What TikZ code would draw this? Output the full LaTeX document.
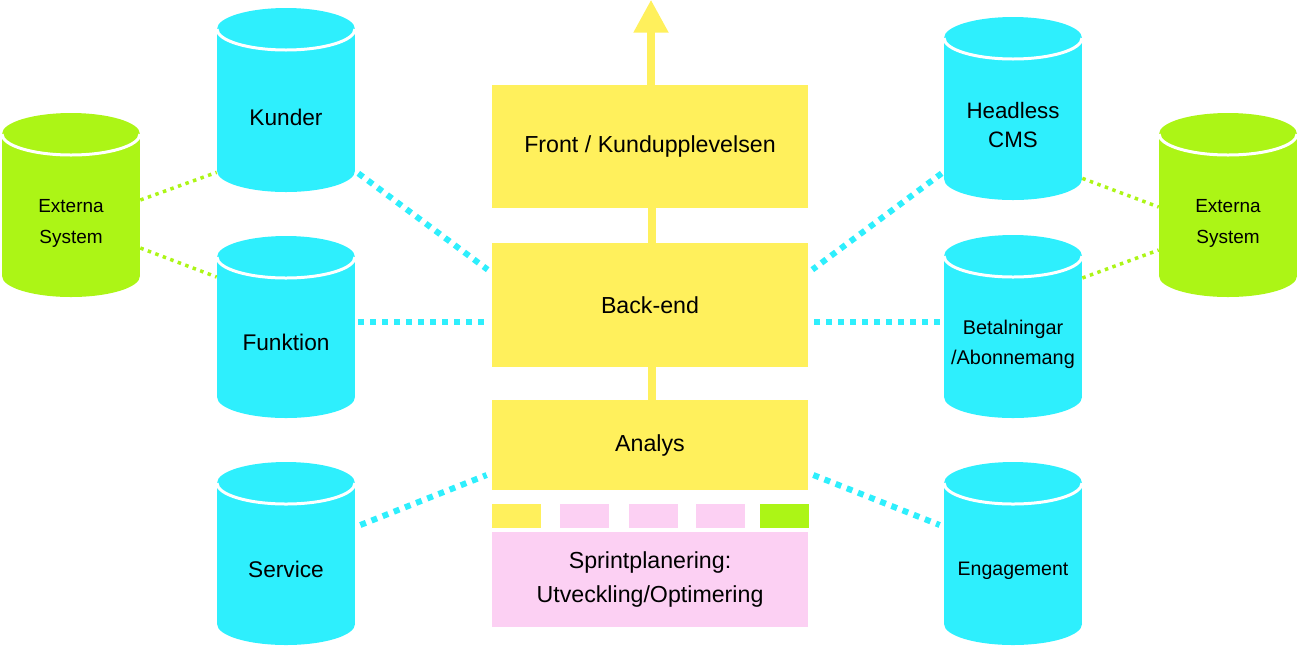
\documentclass[tikz,border=0pt]{standalone}
\usepackage{fontspec}
\setmainfont{Liberation Sans}
\usetikzlibrary{calc,arrows.meta}
\definecolor{cyanfill}{RGB}{46,239,253}
\definecolor{yellowfill}{RGB}{255,240,92}
\definecolor{greenfill}{RGB}{172,245,22}
\definecolor{pinkfill}{RGB}{252,208,243}
\newcommand\dbcyl[5]{% name, cx, top, bottom, colour
  \fill[#5] (#2-69,#3+21) rectangle (#2+69,#4-21);
  \fill[#5] (#2,#4-21) ellipse [x radius=1.38cm, y radius=0.42cm];
  \fill[#5] (#2,#3+21) ellipse [x radius=1.38cm, y radius=0.42cm];
  \draw[white, line width=0.06cm] (#2-69,#3+21) arc [start angle=180, end angle=360, x radius=1.38cm, y radius=0.42cm];
  \node[minimum width=2.76cm, minimum height={(#4-#3)*0.02cm}, inner sep=0pt] (#1) at (#2,{(#3+#4)/2}) {};
}
\tikzset{
  box/.style={fill=yellowfill, minimum width=6.32cm, inner sep=0pt, align=center, font=\fontsize{13.2}{18.8}\selectfont},
  chip/.style={minimum width=0.98cm, minimum height=0.48cm, inner sep=0pt},
  cyanlink/.style={cyanfill, line width=0.12cm, dash pattern=on 0.12cm off 0.12cm},
  greenlink/.style={greenfill, line width=0.07cm, dash pattern=on 0.07cm off 0.09cm},
  stem/.style={yellowfill, line width=0.16cm},
  lbl/.style={align=center, inner sep=0pt}
}
\begin{document}
\begin{tikzpicture}[x=0.02cm, y=-0.02cm]
\useasboundingbox (0,0) rectangle (1300,647);
% cylinders
\dbcyl{kunder}{286}{8}{192}{cyanfill}
\dbcyl{funktion}{286}{236}{418}{cyanfill}
\dbcyl{service}{286}{462}{645}{cyanfill}
\dbcyl{extL}{71}{113}{297}{greenfill}
\dbcyl{headless}{1013}{17}{200}{cyanfill}
\dbcyl{betal}{1013}{235}{418}{cyanfill}
\dbcyl{engage}{1013}{462}{645}{cyanfill}
\dbcyl{extR}{1228}{113}{297}{greenfill}
% cylinder labels
\node[lbl, font=\fontsize{12.9}{17}\selectfont] (kunderT) at (286,117) {Kunder};
\node[lbl, font=\fontsize{12.9}{17}\selectfont] (funktionT) at (286,342) {Funktion};
\node[lbl, font=\fontsize{12.9}{17}\selectfont] (serviceT) at (286,569) {Service};
\node[lbl, font=\fontsize{10.8}{17.6}\selectfont] (extLT) at (71,223) {Externa\\System};
\node[lbl, font=\fontsize{12.7}{17}\selectfont] (headlessT) at (1013,125) {Headless\\CMS};
\node[lbl, font=\fontsize{11.3}{17}\selectfont] (betalT) at (1013,344) {Betalningar\\/Abonnemang};
\node[lbl, font=\fontsize{11.1}{17}\selectfont] (engageT) at (1013,571) {Engagement};
\node[lbl, font=\fontsize{10.8}{17.6}\selectfont] (extRT) at (1228,223) {Externa\\System};
% central column
\node[box, minimum height=2.46cm] (front) at (650,146.5) {Front / Kundupplevelsen};
\node[box, minimum height=2.48cm] (backend) at (650,305) {Back-end};
\node[box, minimum height=1.8cm] (analys) at (650,445) {Analys};
\node[box, fill=pinkfill, minimum height=1.9cm] (sprint) at (650,579.5) {Sprintplanering:\\Utveckling/Optimering};
\node[chip, fill=yellowfill] (sq1) at (516,516) {};
\node[chip, fill=pinkfill] (sq2) at (584,516) {};
\node[chip, fill=pinkfill] (sq3) at (653,516) {};
\node[chip, fill=pinkfill] (sq4) at (720.5,516) {};
\node[chip, fill=greenfill] (sq5) at (784,516) {};
% stems and arrow
\draw[stem, -{Triangle[width=0.66cm, length=0.66cm]}] ($(front.north)+(1,0)$) -- ($(front.north)+(1,-85)$);
\draw[stem] ($(backend.north)+(2,0)$) -- ($(front.south)+(2,0)$);
\draw[stem] ($(analys.north)+(2,0)$) -- ($(backend.south)+(2,0)$);
% cyan links
\draw[cyanlink] ($(kunder.south east)+(3,-19)$) -- ($(backend.north west)+(-4,27)$);
\draw[cyanlink] ($(funktion.east)+(3,-5)$) -- ($(backend.west)+(-2,17)$);
\draw[cyanlink] ($(service.east)+(5,-28.5)$) -- ($(analys.west)+(-5,30)$);
\draw[cyanlink] ($(headless.south west)+(-2,-27)$) -- ($(backend.north east)+(4,27)$);
\draw[cyanlink] ($(betal.west)+(-4,-4.5)$) -- ($(backend.east)+(4,17)$);
\draw[cyanlink] ($(analys.east)+(5,30)$) -- ($(engage.west)+(-4,-28.5)$);
% green links
\draw[greenlink] ($(extL.east)+(0,-5)$) -- ($(kunder.south west)+(0,-20)$);
\draw[greenlink] ($(extL.east)+(0,43)$) -- ($(funktion.west)+(0,-50)$);
\draw[greenlink] ($(headless.south east)+(0,-22)$) -- ($(extR.west)+(0,2)$);
\draw[greenlink] ($(betal.east)+(0,-48.5)$) -- ($(extR.west)+(0,45)$);
\end{tikzpicture}
\end{document}
